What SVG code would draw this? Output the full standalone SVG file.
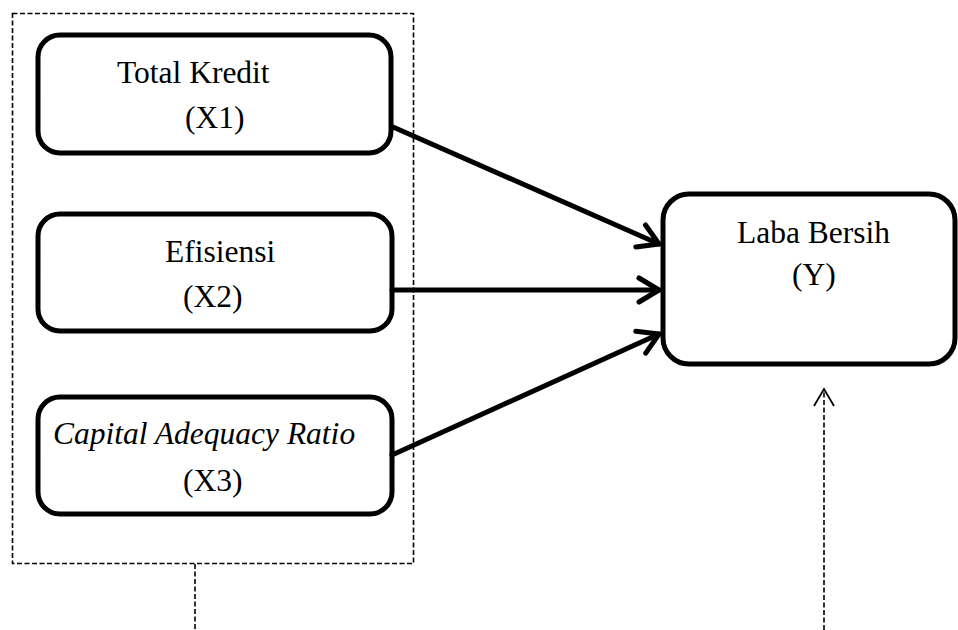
<svg xmlns="http://www.w3.org/2000/svg" width="958" height="630" viewBox="0 0 958 630">
<style>
.node{fill:#fff;stroke:#000;stroke-width:5}
.t{font-family:"Liberation Serif","Times New Roman",serif;font-size:31.5px;fill:#000}
.i{font-style:italic}
.arrow{stroke:#000;stroke-width:5;fill:none;stroke-linecap:round}
.dash{stroke:#000;stroke-width:1.6;fill:none;stroke-dasharray:5 2.5}
</style>
<defs>
<marker id="ah" markerUnits="userSpaceOnUse" viewBox="-26 -16 30 32" markerWidth="30" markerHeight="32" refX="0" refY="0" orient="auto">
<path d="M-20,-12 L0,0 L-20,12" fill="none" stroke="#000" stroke-width="5" stroke-linecap="round" stroke-linejoin="round"/>
</marker>
<marker id="ahs" markerUnits="userSpaceOnUse" viewBox="-20 -12 24 24" markerWidth="24" markerHeight="24" refX="0" refY="0" orient="auto">
<path d="M-17,-10 L0,0 L-17,10" fill="none" stroke="#000" stroke-width="1.8"/>
</marker>
</defs>
<g id="group-x">
<rect x="12.5" y="13.5" width="401" height="550" class="dash"/>
</g>
<g id="node-x1">
<rect x="38" y="35" width="353" height="118" rx="22" class="node"/>
<text x="117" y="83" class="t">Total Kredit</text>
<text x="185" y="128" class="t">(X1)</text>
</g>
<g id="node-x2">
<rect x="38" y="214" width="354" height="117" rx="22" class="node"/>
<text x="165" y="262" class="t">Efisiensi</text>
<text x="183" y="307" class="t">(X2)</text>
</g>
<g id="node-x3">
<rect x="38" y="397" width="354" height="117" rx="22" class="node"/>
<text x="53" y="444" class="t i">Capital Adequacy Ratio</text>
<text x="183" y="491" class="t">(X3)</text>
</g>
<g id="node-y">
<rect x="663" y="194" width="292" height="170" rx="26" class="node"/>
<text x="737" y="243" class="t">Laba Bersih</text>
<text x="792" y="285" class="t">(Y)</text>
</g>
<g id="connectors">
<line x1="393" y1="127" x2="659" y2="244" class="arrow" marker-end="url(#ah)"/>
<line x1="392" y1="290" x2="659" y2="290" class="arrow" marker-end="url(#ah)"/>
<line x1="392" y1="455" x2="659" y2="334" class="arrow" marker-end="url(#ah)"/>
<line x1="195" y1="564" x2="195" y2="630" class="dash"/>
<line x1="824" y1="630" x2="824" y2="389" class="dash" marker-end="url(#ahs)"/>
</g>
</svg>
